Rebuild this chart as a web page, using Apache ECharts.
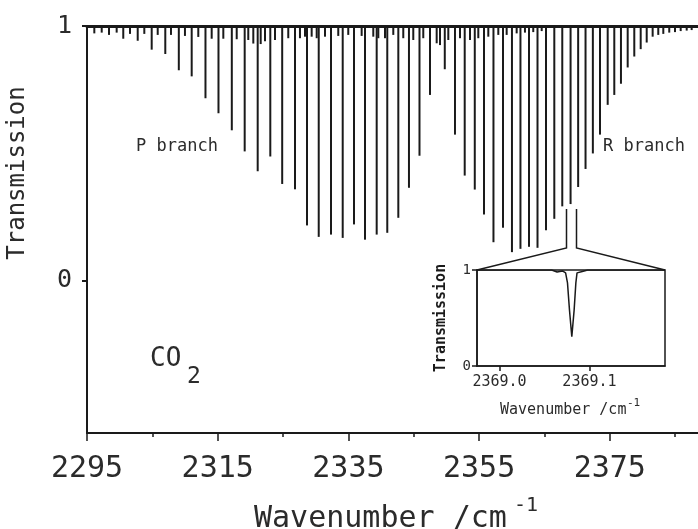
<!DOCTYPE html>
<html>
<head>
<meta charset="utf-8">
<script src="https://cdn.jsdelivr.net/npm/echarts@6/dist/echarts.min.js"></script>
<style>
html, body { margin: 0; padding: 0; background: #fff; }
#chart { width: 698px; height: 529px; }
</style>
</head>
<body>
<div id="chart"></div>
<script>
// strong rotational lines: position (cm-1) and transmission at line centre
const strongPos = [
    2300.55, 2302.76, 2304.90, 2306.98, 2309.05, 2311.02, 2313.13, 2315.12, 2317.16, 2319.13,
    2321.12, 2323.05, 2324.87, 2326.83, 2328.67, 2330.46, 2332.34, 2334.13, 2335.86, 2337.54,
    2339.33, 2340.95, 2342.64, 2344.27, 2345.88, 2347.49,
    2349.75, 2351.31, 2352.80, 2354.34, 2355.75, 2357.20, 2358.66, 2360.03, 2361.33, 2362.64,
    2363.94, 2365.24, 2366.51, 2367.73, 2369.00, 2370.16, 2371.29, 2372.41, 2373.50, 2374.68,
    2375.69, 2376.71, 2377.74, 2378.75, 2379.73, 2380.65, 2381.56, 2382.42, 2383.19, 2384.10,
    2384.98, 2385.85, 2386.77, 2387.53
];
const strongT = [
    0.950, 0.942, 0.907, 0.890, 0.826, 0.802, 0.716, 0.657, 0.590, 0.507,
    0.429, 0.487, 0.379, 0.358, 0.216, 0.171, 0.180, 0.167, 0.220, 0.160,
    0.180, 0.187, 0.246, 0.364, 0.490, 0.729,
    0.830, 0.573, 0.412, 0.357, 0.259, 0.150, 0.207, 0.111, 0.124, 0.132,
    0.128, 0.197, 0.242, 0.291, 0.300, 0.367, 0.438, 0.499, 0.573, 0.690,
    0.729, 0.773, 0.837, 0.880, 0.909, 0.935, 0.958, 0.965, 0.969, 0.974,
    0.976, 0.980, 0.982, 0.984
];

// weak (hot band) lines along the top
const weakPos = [
    2296.12, 2297.25, 2298.37, 2299.54, 2301.58, 2303.77, 2305.82, 2307.85, 2309.99, 2312.03,
    2314.08, 2315.86, 2317.91, 2319.68, 2320.45, 2321.58, 2322.24, 2323.77, 2325.80, 2327.59,
    2328.36, 2329.38, 2330.15, 2331.42, 2333.45, 2334.98, 2337.03, 2338.81, 2339.58, 2340.60,
    2341.87, 2343.40, 2344.93, 2346.46, 2348.51, 2349.02, 2350.29, 2352.08, 2353.61, 2354.88,
    2356.41, 2357.94, 2359.22, 2360.75, 2362.02, 2363.29, 2364.58
];
const weakT = [
    0.971, 0.974, 0.965, 0.974, 0.969, 0.969, 0.965, 0.965, 0.961, 0.957,
    0.950, 0.950, 0.948, 0.945, 0.931, 0.929, 0.940, 0.945, 0.952, 0.952,
    0.958, 0.958, 0.952, 0.958, 0.961, 0.965, 0.961, 0.958, 0.952, 0.952,
    0.965, 0.952, 0.945, 0.952, 0.932, 0.925, 0.945, 0.952, 0.945, 0.952,
    0.958, 0.965, 0.965, 0.971, 0.974, 0.976, 0.980
];

// inset: one line at high resolution
const insetX = [2368.975, 2369.058, 2369.064, 2369.070, 2369.0735, 2369.0756, 2369.0778,
    2369.0804, 2369.0830, 2369.0849, 2369.0862, 2369.092, 2369.098, 2369.184];
const insetT = [1, 1, 0.98, 0.99, 0.97, 0.866, 0.585, 0.305, 0.585, 0.866, 0.97, 0.985, 1, 1];

const xTickLabels = [2295, 2315, 2335, 2355, 2375];
const xMinorTicks = [2305, 2325, 2345, 2365, 2385];
const yTickLabels = [0, 1];
const insetXTicks = [2369.0, 2369.1];

const FONT = 'DejaVu Sans Mono';
const INK = '#1a1a1a';
const TEXT = '#2b2b2b';

const chart = echarts.init(document.getElementById('chart'));

function zip(a, b) {
    return a.map((v, i) => [v, b[i]]);
}

function drawLine(params, api) {
    const x = api.value(0);
    const top = api.coord([x, 1]);
    const tip = api.coord([x, api.value(1)]);
    return {
        type: 'line',
        shape: { x1: top[0], y1: top[1], x2: tip[0], y2: tip[1] },
        style: { stroke: INK, lineWidth: 2 }
    };
}

function txt(text, x, y, size, extra) {
    return Object.assign({
        type: 'text',
        x: x,
        y: y,
        z: 100,
        style: {
            text: text,
            fill: TEXT,
            fontSize: size,
            fontFamily: FONT,
            align: 'left',
            verticalAlign: 'middle',
            textAlign: 'left',
            textVerticalAlign: 'middle'
        }
    }, extra || {});
}

const option = {
    animation: false,
    backgroundColor: '#fff',
    grid: [
        { left: 87, right: 0, top: 26, bottom: 96 },
        { left: 477, right: 33, top: 270, bottom: 163, show: true, backgroundColor: '#fff',
          borderColor: INK, borderWidth: 1.5 }
    ],
    xAxis: [
        {
            type: 'value', gridIndex: 0, min: 2295, max: 2388.5,
            axisLine: { onZero: false, lineStyle: { color: INK, width: 2 } },
            axisTick: { customValues: xTickLabels, length: 8, lineStyle: { color: INK, width: 1.5 } },
            axisLabel: { customValues: xTickLabels, fontSize: 30, fontFamily: FONT, color: TEXT, margin: 21,
                         formatter: v => String(v) },
            splitLine: { show: false }
        },
        {
            type: 'value', gridIndex: 0, min: 2295, max: 2388.5, position: 'bottom',
            axisLine: { show: false, onZero: false },
            axisTick: { customValues: xMinorTicks, length: 4, lineStyle: { color: INK, width: 1.5 } },
            axisLabel: { show: false },
            splitLine: { show: false }
        },
        {
            type: 'value', gridIndex: 0, min: 2295, max: 2388.5, position: 'top',
            axisLine: { onZero: false, lineStyle: { color: INK, width: 3 } },
            axisTick: { show: false },
            axisLabel: { show: false },
            splitLine: { show: false }
        },
        {
            type: 'value', gridIndex: 1, min: 2368.975, max: 2369.184,
            axisLine: { onZero: false, lineStyle: { color: INK, width: 1.5 } },
            axisTick: { customValues: insetXTicks, length: 5, lineStyle: { color: INK, width: 1.5 } },
            axisLabel: { customValues: insetXTicks, fontSize: 15, fontFamily: FONT, color: TEXT, margin: 9,
                         formatter: v => v.toFixed(1) },
            splitLine: { show: false }
        }
    ],
    yAxis: [
        {
            type: 'value', gridIndex: 0, min: -0.6, max: 1,
            axisLine: { show: true, onZero: false, lineStyle: { color: INK, width: 2 } },
            axisTick: { show: true, customValues: yTickLabels, length: 5, lineStyle: { color: INK, width: 2 } },
            axisLabel: { customValues: yTickLabels, fontSize: 25, fontFamily: FONT, color: TEXT, margin: 15 },
            splitLine: { show: false }
        },
        {
            type: 'value', gridIndex: 1, min: 0, max: 1,
            axisLine: { show: true, onZero: false, lineStyle: { color: INK, width: 1.5 } },
            axisTick: { show: true, customValues: yTickLabels, length: 5, lineStyle: { color: INK, width: 1.5 } },
            axisLabel: { customValues: yTickLabels, fontSize: 14, fontFamily: FONT, color: TEXT, margin: 6 },
            splitLine: { show: false }
        }
    ],
    series: [
        {
            name: 'weak', type: 'custom', xAxisIndex: 0, yAxisIndex: 0,
            renderItem: drawLine, data: zip(weakPos, weakT), encode: { x: 0, y: 1 }
        },
        {
            name: 'strong', type: 'custom', xAxisIndex: 0, yAxisIndex: 0,
            renderItem: drawLine, data: zip(strongPos, strongT), encode: { x: 0, y: 1 }
        },
        {
            name: 'inset', type: 'line', xAxisIndex: 3, yAxisIndex: 1,
            data: zip(insetX, insetT), showSymbol: false, symbol: 'none',
            lineStyle: { color: INK, width: 1.5 }
        }
    ],
    graphic: [
        txt('P branch', 136, 147, 17),
        txt('R branch', 603, 147, 17),
        txt('CO', 150, 359, 26),
        txt('2', 187, 377, 23),
        txt('Transmission', 18, 173, 24, { rotation: Math.PI / 2,
            style: { text: 'Transmission', fill: TEXT, fontSize: 24, fontFamily: FONT,
                     align: 'center', verticalAlign: 'middle', textAlign: 'center', textVerticalAlign: 'middle' } }),
        txt('Wavenumber /cm', 254, 519, 30),
        txt('-1', 514, 506, 20),
        txt('Transmission', 441, 318, 15, { rotation: Math.PI / 2,
            style: { text: 'Transmission', fill: INK, fontSize: 15, fontFamily: FONT, fontWeight: 'bold',
                     align: 'center', verticalAlign: 'middle', textAlign: 'center', textVerticalAlign: 'middle' } }),
        txt('Wavenumber /cm', 500, 410, 15),
        txt('-1', 627, 403, 11),
        {
            type: 'polyline', z: 100,
            shape: { points: [[566.5, 209], [566.5, 248], [477, 270]] },
            style: { stroke: INK, lineWidth: 1.5, fill: null }
        },
        {
            type: 'polyline', z: 100,
            shape: { points: [[576.5, 209], [576.5, 248], [665, 270]] },
            style: { stroke: INK, lineWidth: 1.5, fill: null }
        }
    ]
};

chart.setOption(option);
</script>
</body>
</html>
